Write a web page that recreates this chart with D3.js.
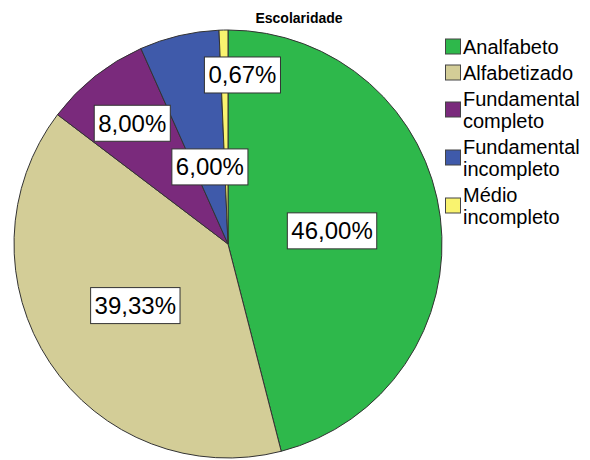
<!DOCTYPE html>
<html>
<head>
<meta charset="utf-8">
<script src="https://cdn.jsdelivr.net/npm/d3@7"></script>
<style>
  body { margin: 0; background: #fff; }
  svg { font-family: "Liberation Sans", Arial, sans-serif; }
</style>
</head>
<body>
<svg id="chart" width="590" height="460"></svg>
<script>
// data
const categories = ["Analfabeto", "Alfabetizado", "Fundamental completo", "Fundamental incompleto", "Médio incompleto"];
const legendLines = [["Analfabeto"], ["Alfabetizado"], ["Fundamental", "completo"], ["Fundamental", "incompleto"], ["Médio", "incompleto"]];
const percents = [46.00, 39.33, 8.00, 6.00, 0.67];
const colors = ["#2eb84b", "#d3cd97", "#7a2a7c", "#3f5aaa", "#f9f36f"];

// label placement (fraction of radius, x nudge in px)
const labelRadius = [0.49, 0.52, 0.72, 0.37, 0.79];
const labelNudge = [0, 0, 0, 0, 18];

const svg = d3.select("#chart");
const cx = 228, cy = 244, r = 214;

svg.append("text")
  .attr("x", 299)
  .attr("y", 23)
  .attr("text-anchor", "middle")
  .style("font-weight", "bold")
  .style("font-size", "14px")
  .text("Escolaridade");

const pie = d3.pie().sort(null).value(d => d);
const arcs = pie(percents);
const arc = d3.arc().innerRadius(0).outerRadius(r);

const g = svg.append("g").attr("transform", "translate(" + cx + "," + cy + ")");

g.selectAll("path.slice")
  .data(arcs)
  .enter()
  .append("path")
  .attr("class", "slice")
  .attr("d", arc)
  .attr("fill", (d, i) => colors[i])
  .attr("stroke", "#333")
  .attr("stroke-width", 1);

// labels with white boxes
const fmt = v => d3.format(".2f")(v).replace(".", ",") + "%";
const labels = g.selectAll("g.lbl")
  .data(arcs)
  .enter()
  .append("g")
  .attr("class", "lbl")
  .attr("transform", (d, i) => {
    const a = (d.startAngle + d.endAngle) / 2;
    const rr = r * labelRadius[i];
    return "translate(" + (Math.sin(a) * rr + labelNudge[i]) + "," + (-Math.cos(a) * rr) + ")";
  });

labels.append("text")
  .attr("text-anchor", "middle")
  .attr("dy", "0.35em")
  .style("font-size", "24px")
  .text((d, i) => fmt(percents[i]));

labels.each(function() {
  const grp = d3.select(this);
  const bb = grp.select("text").node().getBBox();
  grp.insert("rect", "text")
    .attr("x", bb.x - 4)
    .attr("y", -18)
    .attr("width", bb.width + 8)
    .attr("height", 36)
    .attr("fill", "#fff")
    .attr("stroke", "#333")
    .attr("stroke-width", 1);
});

// legend
const legend = svg.append("g").attr("transform", "translate(445,0)");
let y = 54;
legendLines.forEach((lines, i) => {
  const item = legend.append("g");
  const mid = y + (lines.length - 1) * 11 - 7;
  item.append("rect")
    .attr("x", 0.5)
    .attr("y", mid - 8)
    .attr("width", 15)
    .attr("height", 15)
    .attr("fill", colors[i])
    .attr("stroke", "#444");
  lines.forEach((t, j) => {
    item.append("text")
      .attr("x", 18)
      .attr("y", y + j * 22)
      .style("font-size", "20px")
      .text(t);
  });
  y += (lines.length - 1) * 22 + 26;
});
</script>
</body>
</html>
